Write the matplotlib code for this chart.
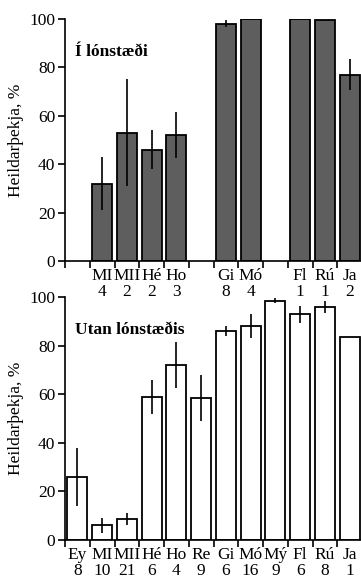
import numpy as np
import matplotlib.pyplot as plt

plt.rcParams['font.family'] = ['Liberation Serif', 'DejaVu Serif']

# --- data ---
sites = ['Ey', 'MI', 'MII', 'Hé', 'Ho', 'Re', 'Gi', 'Mó', 'Mý', 'Fl', 'Rú', 'Ja']

# Í lónstæði (None = no sample)
in_vals = [None, 32, 53, 46, 52, None, 98, 100, None, 100, 99.5, 77]
in_err = [None, 11, 22, 8, 9.5, None, 1.5, 0, None, 0, 0, 6.5]
in_n = [None, 4, 2, 2, 3, None, 8, 4, None, 1, 1, 2]

# Utan lónstæðis
out_vals = [26, 6, 8.5, 59, 72, 58.5, 86, 88, 98.5, 93, 96, 83.5]
out_err = [12, 3, 2.5, 7, 9.5, 9.5, 2, 5, 1, 3.5, 2.5, 0]
out_n = [8, 10, 21, 6, 4, 9, 6, 16, 9, 6, 8, 1]

W, H = 361, 580
fig = plt.figure(figsize=(W / 100, H / 100), dpi=100)

x0, x1 = 65, 362
ax_top = fig.add_axes([x0 / W, (H - 261) / H, (x1 - x0) / W, 242 / H])
ax_bot = fig.add_axes([x0 / W, (H - 540) / H, (x1 - x0) / W, 243 / H])


def draw_panel(ax, vals, errs, ns, color, title):
    idx = [i for i, v in enumerate(vals) if v is not None]
    v = [vals[i] for i in idx]
    e = [errs[i] for i in idx]
    ax.bar(idx, v, width=0.8, color=color, edgecolor='black', linewidth=1.3, zorder=2)
    ax.errorbar(idx, v, yerr=e, fmt='none', ecolor='black', elinewidth=1.2,
                capsize=0, zorder=3, clip_on=False)
    ax.set_xlim(-0.5, len(vals) - 0.5)
    ax.set_ylim(0, 100)
    ax.spines['top'].set_visible(False)
    ax.spines['right'].set_visible(False)
    ax.spines['left'].set_linewidth(1.2)
    ax.spines['bottom'].set_linewidth(1.2)
    ax.set_yticks(np.arange(0, 101, 20))
    ax.tick_params(axis='y', direction='out', length=5, width=1.2, labelsize=12.5, pad=2)
    # boundary ticks
    ax.set_xticks(np.arange(-0.5, len(vals), 1), minor=True)
    ax.tick_params(axis='x', which='minor', direction='out', length=5, width=1.2)
    ax.set_xticks(idx)
    ax.set_xticklabels([f'{sites[i]}\n{ns[i]}' for i in idx], linespacing=1.0)
    ax.tick_params(axis='x', which='major', length=0, labelsize=12.5, pad=5)
    ax.set_ylabel('Heildarþekja, %', fontsize=12.5, labelpad=4)
    ax.text(0.034, 0.864, title, transform=ax.transAxes, fontsize=12.5,
            fontweight='bold', va='center', ha='left')


draw_panel(ax_top, in_vals, in_err, in_n, '#5e5e5e', 'Í lónstæði')
draw_panel(ax_bot, out_vals, out_err, out_n, 'white', 'Utan lónstæðis')

fig.savefig('out.png', dpi=100)
